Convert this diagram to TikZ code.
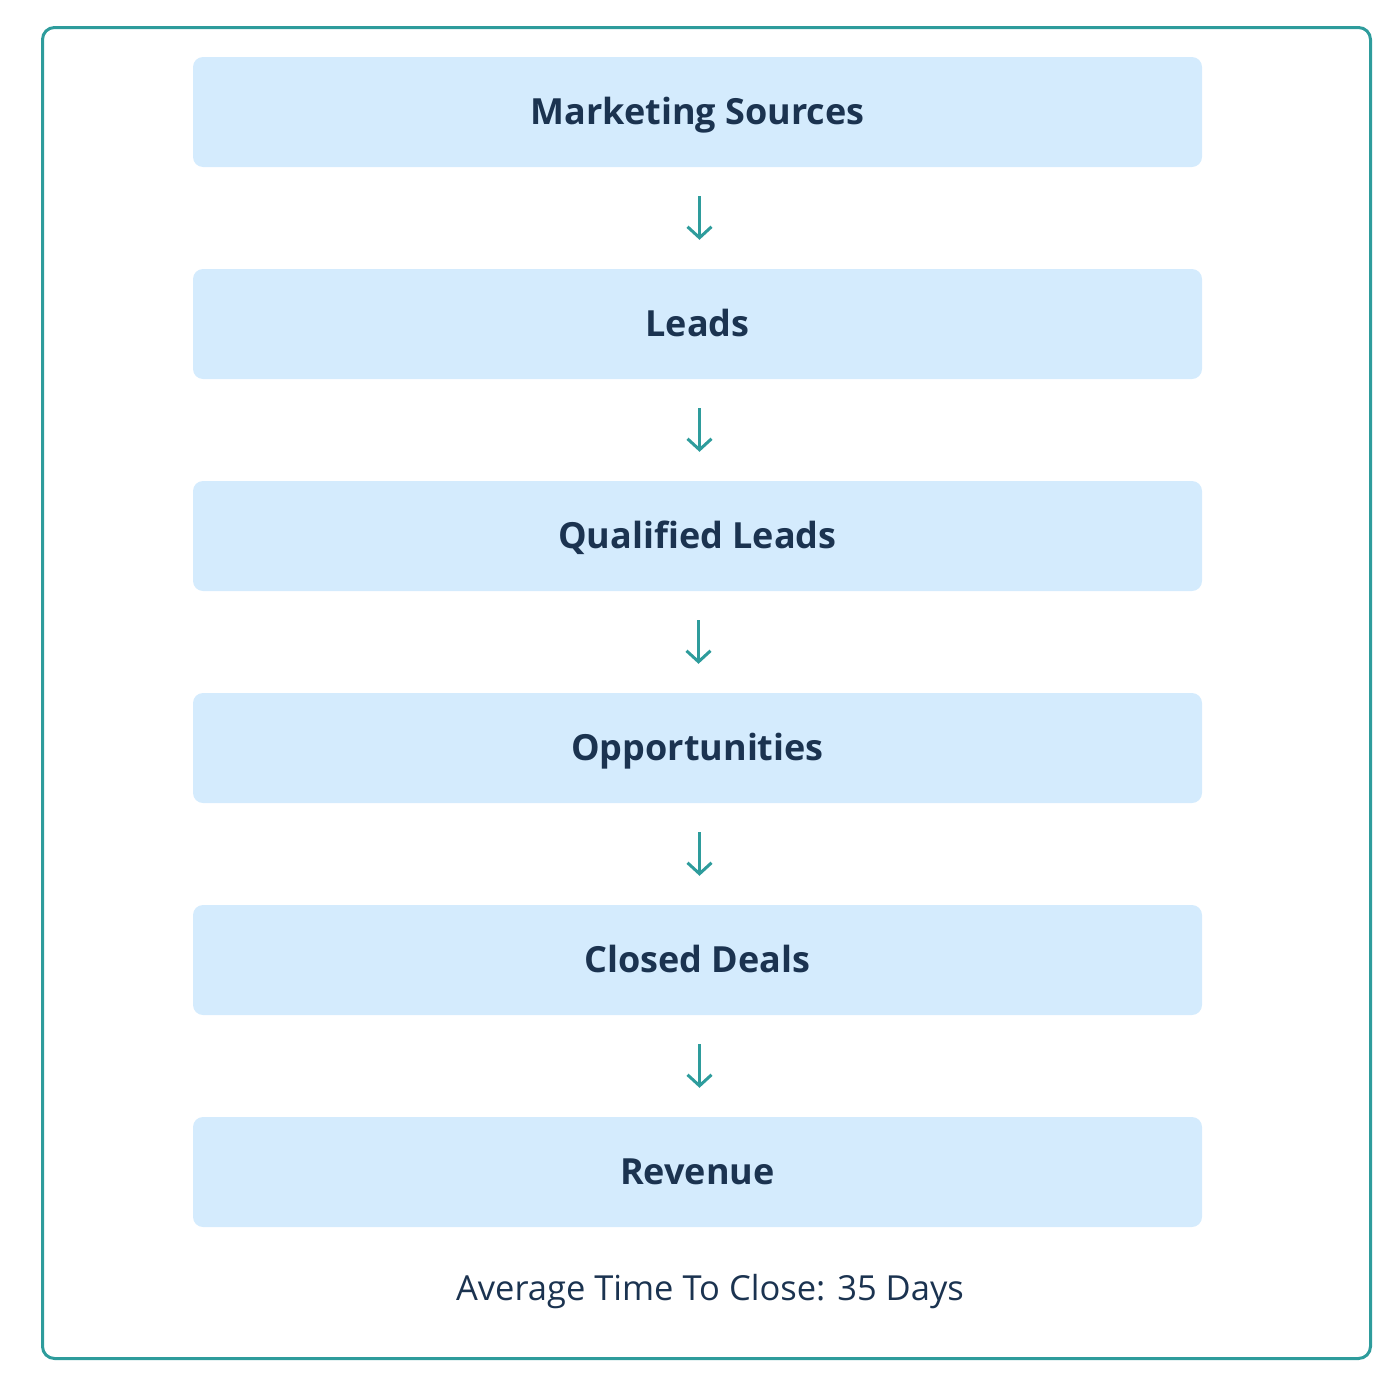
\documentclass[tikz,border=0pt]{standalone}
\usepackage{fontspec}
\setmainfont{Open Sans}
\usetikzlibrary{arrows.meta}
\definecolor{teal}{HTML}{2E9C9C}
\definecolor{boxfill}{HTML}{D4EBFD}
\definecolor{navy}{HTML}{1B3350}
\tikzset{
  stage/.style={draw=none, fill=boxfill, rounded corners=10pt, minimum width=1009pt, minimum height=110pt, inner sep=0pt, text=navy, font=\fontsize{36}{42}\selectfont\bfseries, text height=25.7pt, text depth=0pt},
  flow/.style={draw=teal, line width=3pt, shorten >=29pt, shorten <=29pt, -{Straight Barb[length=11pt,width=24pt,line width=3pt]}},
  frame/.style={draw=teal, line width=3pt, rounded corners=12pt}
}
\begin{document}
\begin{tikzpicture}[x=1pt,y=-1pt]
\useasboundingbox (0,0) rectangle (1400,1400);
\node[frame, minimum width=1328pt, minimum height=1331pt, anchor=north west] (outer) at (41,26) {};
\node[stage] (n1) at (697.5,112) {Marketing Sources};
\node[stage] (n2) at (697.5,324) {Leads};
\node[stage] (n3) at (697.5,536) {Qualified Leads};
\node[stage] (n4) at (697.5,748) {Opportunities};
\node[stage] (n5) at (697.5,960) {Closed Deals};
\node[stage] (n6) at (697.5,1172) {Revenue};
\draw[flow] ([xshift=2pt]n1.south) -- ([xshift=2pt]n2.north);
\draw[flow] ([xshift=2pt]n2.south) -- ([xshift=2pt]n3.north);
\draw[flow] ([xshift=1pt]n3.south) -- ([xshift=1pt]n4.north);
\draw[flow] ([xshift=2pt]n4.south) -- ([xshift=2pt]n5.north);
\draw[flow] ([xshift=2pt]n5.south) -- ([xshift=2pt]n6.north);
\node[text=navy, font=\fontsize{34.5}{40}\selectfont, text height=24.6pt, text depth=0pt, inner sep=0pt] (foot) at (710,1288) {Average Time To Close: 35 Days};
\end{tikzpicture}
\end{document}
